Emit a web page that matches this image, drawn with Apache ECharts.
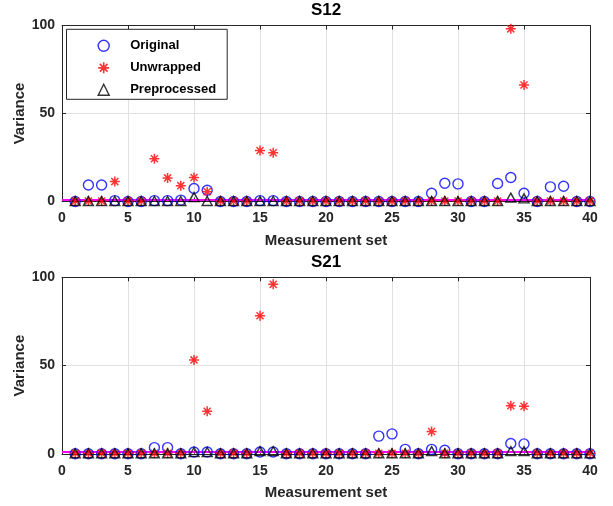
<!DOCTYPE html>
<html>
<head>
<meta charset="utf-8">
<script src="https://cdn.jsdelivr.net/npm/echarts@6/dist/echarts.min.js"></script>
<style>
  html, body { margin: 0; padding: 0; background: #fff; }
  #chart { width: 613px; height: 506px; }
</style>
</head>
<body>
<div id="chart"></div>
<script>
// measurement sets 1..40
const sets = Array.from({ length: 40 }, (_, i) => i + 1)

// S12 variances
const s12Original = [0, 9.4, 9.4, 0.5, 0, 0, 0.5, 0.5, 0.8, 7.4, 6.4, 0, 0, 0, 0.5, 0.5, 0, 0, 0, 0,
  0, 0, 0, 0, 0, 0, 0, 4.7, 10.4, 10, 0, 0, 10.2, 13.6, 4.7, 0, 8.3, 8.7, 0, 0]
const s12Unwrapped = [0.3, 0.3, 0.3, 11.3, 0.3, 0.3, 24.3, 13.4, 9, 13.6, 5.5, 0.3, 0.3, 0.3, 29, 27.7, 0.3, 0.3, 0.3, 0.3,
  0.3, 0.3, 0.3, 0.3, 0.3, 0.3, 0.3, 0.3, 0.3, 0.3, 0.3, 0.3, 0.3, 98.1, 66.2, 0.3, 0.3, 0.3, 0.3, 0.3]
const s12Preprocessed = [0.3, 0.3, 0.3, 0.3, 0.3, 0.3, 0.3, 0.3, 0.3, 2.5, 0.3, 0.3, 0.3, 0.3, 0.3, 0.3, 0.3, 0.3, 0.3, 0.3,
  0.3, 0.3, 0.3, 0.3, 0.3, 0.3, 0.3, 0.3, 0.3, 0.3, 0.3, 0.3, 0.3, 2.2, 1.8, 0.3, 0.3, 0.3, 0.3, 0.3]

// S21 variances
const s21Original = [0, 0, 0, 0, 0, 0, 3.5, 3.5, 0, 1, 1, 0, 0, 0, 1, 1, 0, 0, 0, 0,
  0, 0, 0, 10, 11.3, 2.5, 0, 2.5, 2, 0, 0, 0, 0, 5.8, 5.6, 0, 0, 0, 0, 0]
const s21Unwrapped = [0.3, 0.3, 0.3, 0.3, 0.3, 0.3, 0.3, 0.3, 0.3, 53.2, 24.1, 0.3, 0.3, 0.3, 78.2, 96, 0.3, 0.3, 0.3, 0.3,
  0.3, 0.3, 0.3, 0.3, 0.3, 0.3, 0.3, 12.6, 0.3, 0.3, 0.3, 0.3, 0.3, 27.2, 26.9, 0.3, 0.3, 0.3, 0.3, 0.3]
const s21Preprocessed = [0.3, 0.3, 0.3, 0.3, 0.3, 0.3, 0.3, 0.3, 0.3, 1, 1, 0.3, 0.3, 0.3, 1.5, 1.5, 0.3, 0.3, 0.3, 0.3,
  0.3, 0.3, 0.3, 0.3, 0.3, 0.3, 0.3, 1.5, 0.3, 0.3, 0.3, 0.3, 0.3, 1.5, 1.5, 0.3, 0.3, 0.3, 0.3, 0.3]

const threshold = 1
const xTicks = [0, 40, 5]    // min, max, step
const yTicks = [0, 100, 50]

const font = '"Liberation Sans", Arial, sans-serif'
const axisColor = '#262626'

// matlab-like '*' marker, all arms wound the same way so overlaps stay filled
const asterisk = 'path://M-0.15,-1L0.15,-1L0.15,1L-0.15,1Z' +
  'M-1,-0.15L1,-0.15L1,0.15L-1,0.15Z' +
  'M-0.6,-0.81L0.81,0.6L0.6,0.81L-0.81,-0.6Z' +
  'M-0.81,0.6L0.6,-0.81L0.81,-0.6L-0.6,0.81Z'

const pairs = (vals) => sets.map((x, i) => [x, vals[i]])

const grids = [
  { left: 62, width: 528, top: 25.5, height: 176, outerBoundsMode: 'none' },
  { left: 62, width: 528, top: 277.3, height: 176.5, outerBoundsMode: 'none' }
]

const lineStyle = { color: axisColor, width: 1 }
const tick = { show: true, inside: true, length: 4, lineStyle: { color: axisColor } }

const makeAxes = (g) => {
  const x = {
    type: 'value', gridIndex: g, min: xTicks[0], max: xTicks[1], interval: xTicks[2],
    name: 'Measurement set', nameLocation: 'middle', nameGap: 32,
    nameTextStyle: { fontFamily: font, fontWeight: 'bold', fontSize: 15, color: axisColor },
    axisLine: { onZero: false, lineStyle },
    axisTick: tick,
    axisLabel: { margin: 10, fontFamily: font, fontWeight: 'bold', fontSize: 14, color: axisColor },
    splitLine: { show: true, lineStyle: { color: '#e1e1e1', width: 1 } }
  }
  const xTop = {
    type: 'value', gridIndex: g, position: 'top', min: xTicks[0], max: xTicks[1], interval: xTicks[2],
    axisLine: { show: true, onZero: false, lineStyle },
    axisTick: tick,
    axisLabel: { show: false }, splitLine: { show: false }
  }
  const y = {
    type: 'value', gridIndex: g, min: yTicks[0], max: yTicks[1], interval: yTicks[2],
    name: 'Variance', nameLocation: 'middle', nameGap: 35, nameMoveOverlap: false,
    nameTextStyle: { fontFamily: font, fontWeight: 'bold', fontSize: 15, color: axisColor },
    axisLine: { show: true, onZero: false, lineStyle },
    axisTick: tick,
    axisLabel: { margin: 7, fontFamily: font, fontWeight: 'bold', fontSize: 14, color: axisColor },
    splitLine: { show: true, lineStyle: { color: '#e1e1e1', width: 1 } }
  }
  const yRight = {
    type: 'value', gridIndex: g, position: 'right', min: yTicks[0], max: yTicks[1], interval: yTicks[2],
    axisLine: { show: true, onZero: false, lineStyle },
    axisTick: tick,
    axisLabel: { show: false }, splitLine: { show: false }
  }
  return { x: [x, xTop], y: [y, yRight] }
}

const a0 = makeAxes(0)
const a1 = makeAxes(1)

const makeSeries = (g, orig, unwr, prep) => [
  {
    name: 'Original', type: 'scatter', xAxisIndex: g * 2, yAxisIndex: g * 2, clip: false,
    data: pairs(orig), symbol: 'circle', symbolSize: 10,
    itemStyle: { color: 'transparent', borderColor: '#0000ff', borderWidth: 1.4 }
  },
  {
    name: 'Unwrapped', type: 'scatter', xAxisIndex: g * 2, yAxisIndex: g * 2, clip: false,
    data: pairs(unwr), symbol: asterisk, symbolSize: 10,
    itemStyle: { color: '#ff0000' }
  },
  {
    name: 'Preprocessed', type: 'scatter', xAxisIndex: g * 2, yAxisIndex: g * 2, clip: false,
    data: pairs(prep), symbol: 'triangle', symbolSize: [10, 9],
    itemStyle: { color: 'transparent', borderColor: '#000', borderWidth: 1.4 },
    markLine: {
      silent: true, symbol: ['none', 'none'], label: { show: false },
      lineStyle: { color: '#ff00ff', width: 2, type: 'solid' },
      data: [{ yAxis: threshold }],
      z: 1
    }
  }
]

const chart = echarts.init(document.getElementById('chart'))
chart.setOption({
  animation: false,
  backgroundColor: '#fff',
  title: [
    { text: 'S12', left: 326, top: 2, textAlign: 'center', padding: 0,
      textStyle: { fontFamily: font, fontWeight: 'bold', fontSize: 17, color: '#000' } },
    { text: 'S21', left: 326, top: 254, textAlign: 'center', padding: 0,
      textStyle: { fontFamily: font, fontWeight: 'bold', fontSize: 17, color: '#000' } }
  ],
  legend: {
    orient: 'vertical', left: 66.5, top: 29.3,
    // square icon box so the triangle keeps its shape; text pushed right by its own padding
    padding: [10, 11, 3, 31],
    itemWidth: 11, itemHeight: 11, itemGap: 9,
    backgroundColor: '#fff', borderColor: axisColor, borderWidth: 1,
    textStyle: { fontFamily: font, fontWeight: 'bold', fontSize: 13, color: '#000', padding: [0, 0, 0, 16] },
    data: [
      { name: 'Original', itemStyle: { borderWidth: 1.4 } },
      { name: 'Unwrapped' },
      { name: 'Preprocessed', itemStyle: { borderWidth: 1.4 } }
    ]
  },
  grid: grids,
  xAxis: [...a0.x, ...a1.x],
  yAxis: [...a0.y, ...a1.y],
  series: [
    ...makeSeries(0, s12Original, s12Unwrapped, s12Preprocessed),
    ...makeSeries(1, s21Original, s21Unwrapped, s21Preprocessed)
  ]
})
</script>
</body>
</html>
